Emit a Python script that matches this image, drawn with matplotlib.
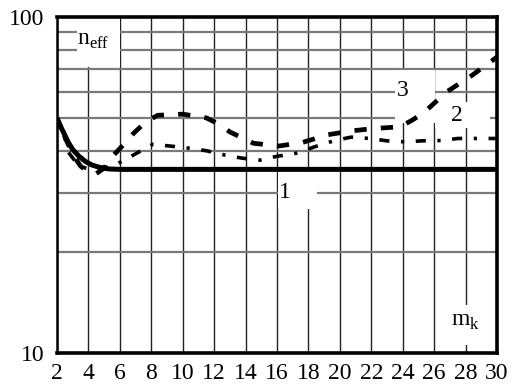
import numpy as np
import matplotlib
matplotlib.use('Agg')
import matplotlib.pyplot as plt
from matplotlib.patches import Rectangle
from matplotlib.ticker import FixedLocator, NullFormatter

plt.rcParams['font.family'] = 'Liberation Serif'
plt.rcParams['mathtext.fontset'] = 'custom'
plt.rcParams['mathtext.rm'] = 'Liberation Serif'

# curve 1 : solid
x1 = [2, 2.2, 2.4, 2.7, 3, 3.4, 3.8, 4.2, 4.7, 5.3, 6, 30]
y1 = [50, 47.5, 45.5, 42.5, 40.3, 38.5, 37.2, 36.3, 35.7, 35.3, 35.2, 35.2]

# curve 2 : dash-dot
x2 = [2, 2.4, 2.7, 3.4, 4.1, 5, 5.8, 6.5, 7.1, 8.1, 9.2, 10.4, 11.5, 12.7, 13.8,
      14.9, 16, 17.2, 18.4, 19.6, 20.7, 21.9, 23, 24.2, 25.2, 26.5, 27.5, 28.7, 30]
y2 = [50, 46, 39.7, 36.0, 35.2, 35.6, 36.5, 38, 39.4, 41.8, 41.3, 40.7, 40, 38.8, 38,
      37.5, 38.5, 39.3, 41.1, 42.8, 43.9, 43.5, 42.8, 42.5, 42.8, 42.9, 43.5, 43.5, 43.5]

# curve 3 : dashed
x3 = [2, 2.5, 3, 3.5, 4, 4.5, 5, 5.6, 6.3, 6.9, 7.6, 8.4, 10, 11.5, 12.3, 13, 14.5,
      16.1, 17.6, 19.2, 20.7, 22.2, 23.8, 24.5, 25.3, 26.8, 28.4, 30]
y3 = [50, 44, 39, 36, 34.5, 34.2, 35.5, 38.8, 42, 45.2, 48.5, 51, 51.4, 50.1, 48, 45.5, 42.1,
      41.3, 42.3, 44.6, 45.8, 46.6, 47.1, 49, 51.7, 59.9, 67, 76]

xticks = list(range(2, 31, 2))
ygrid = [20, 30, 40, 50, 60, 70, 80, 90]

fig = plt.figure(figsize=(5.15, 3.85), dpi=100)
ax = fig.add_axes([0.1107, 0.0831, 0.8544, 0.8727])
ax.set_yscale('log')
ax.set_xlim(2, 30)
ax.set_ylim(10, 100)

ax.set_xticks(xticks)
ax.set_yticks([10, 100])
ax.set_yticklabels(['10', '100'])
ax.yaxis.set_minor_locator(FixedLocator(ygrid))
ax.yaxis.set_minor_formatter(NullFormatter())
ax.tick_params(which='both', length=0, labelsize=17)
ax.tick_params(axis='x', pad=7)
ax.tick_params(axis='y', pad=9)

ax.grid(axis='x', which='major', color='#222222', lw=1.0, zorder=0)
ax.grid(axis='y', which='minor', color='#7a7a7a', lw=1.6, zorder=0)
ax.set_axisbelow(True)

for s in ax.spines.values():
    s.set_linewidth(2.6)
ax.spines['left'].set_linewidth(1.8)

# white label boxes
boxes = [((3.27, 71), 2.74, 29), ((16.06, 26.8), 2.49, 7.8), ((23.5, 48.4), 2.55, 21.2),
         ((26.05, 46.7), 3.5, 9.2), ((26.7, 10.6), 2.85, 3.3)]
for (bx, by), bw, bh in boxes:
    ax.add_patch(Rectangle((bx, by), bw, bh, facecolor='white', edgecolor='none', zorder=1))

ax.plot(x1, y1, color='black', lw=3.6, solid_capstyle='butt', zorder=3)
ax.plot(x2, y2, color='black', lw=2.6, linestyle=(0, (2.8, 3.2, 0.9, 3.2)), zorder=3)
ax.plot(x3, y3, color='black', lw=3.4, linestyle=(1.6, (2.6, 3.0)), zorder=3)

ax.text(3.27, 85, r'n$_{\rm eff}$', fontsize=17, ha='left', va='center', zorder=2)
ax.text(16.5, 30.1, '1', fontsize=17, ha='center', va='center', zorder=2)
ax.text(24.0, 60.6, '3', fontsize=17, ha='center', va='center', zorder=2)
ax.text(27.45, 50.8, '2', fontsize=17, ha='center', va='center', zorder=2)
ax.text(28.0, 12.4, r'm$_{\rm k}$', fontsize=17, ha='center', va='center', zorder=2)

fig.savefig('out.png', dpi=100)
